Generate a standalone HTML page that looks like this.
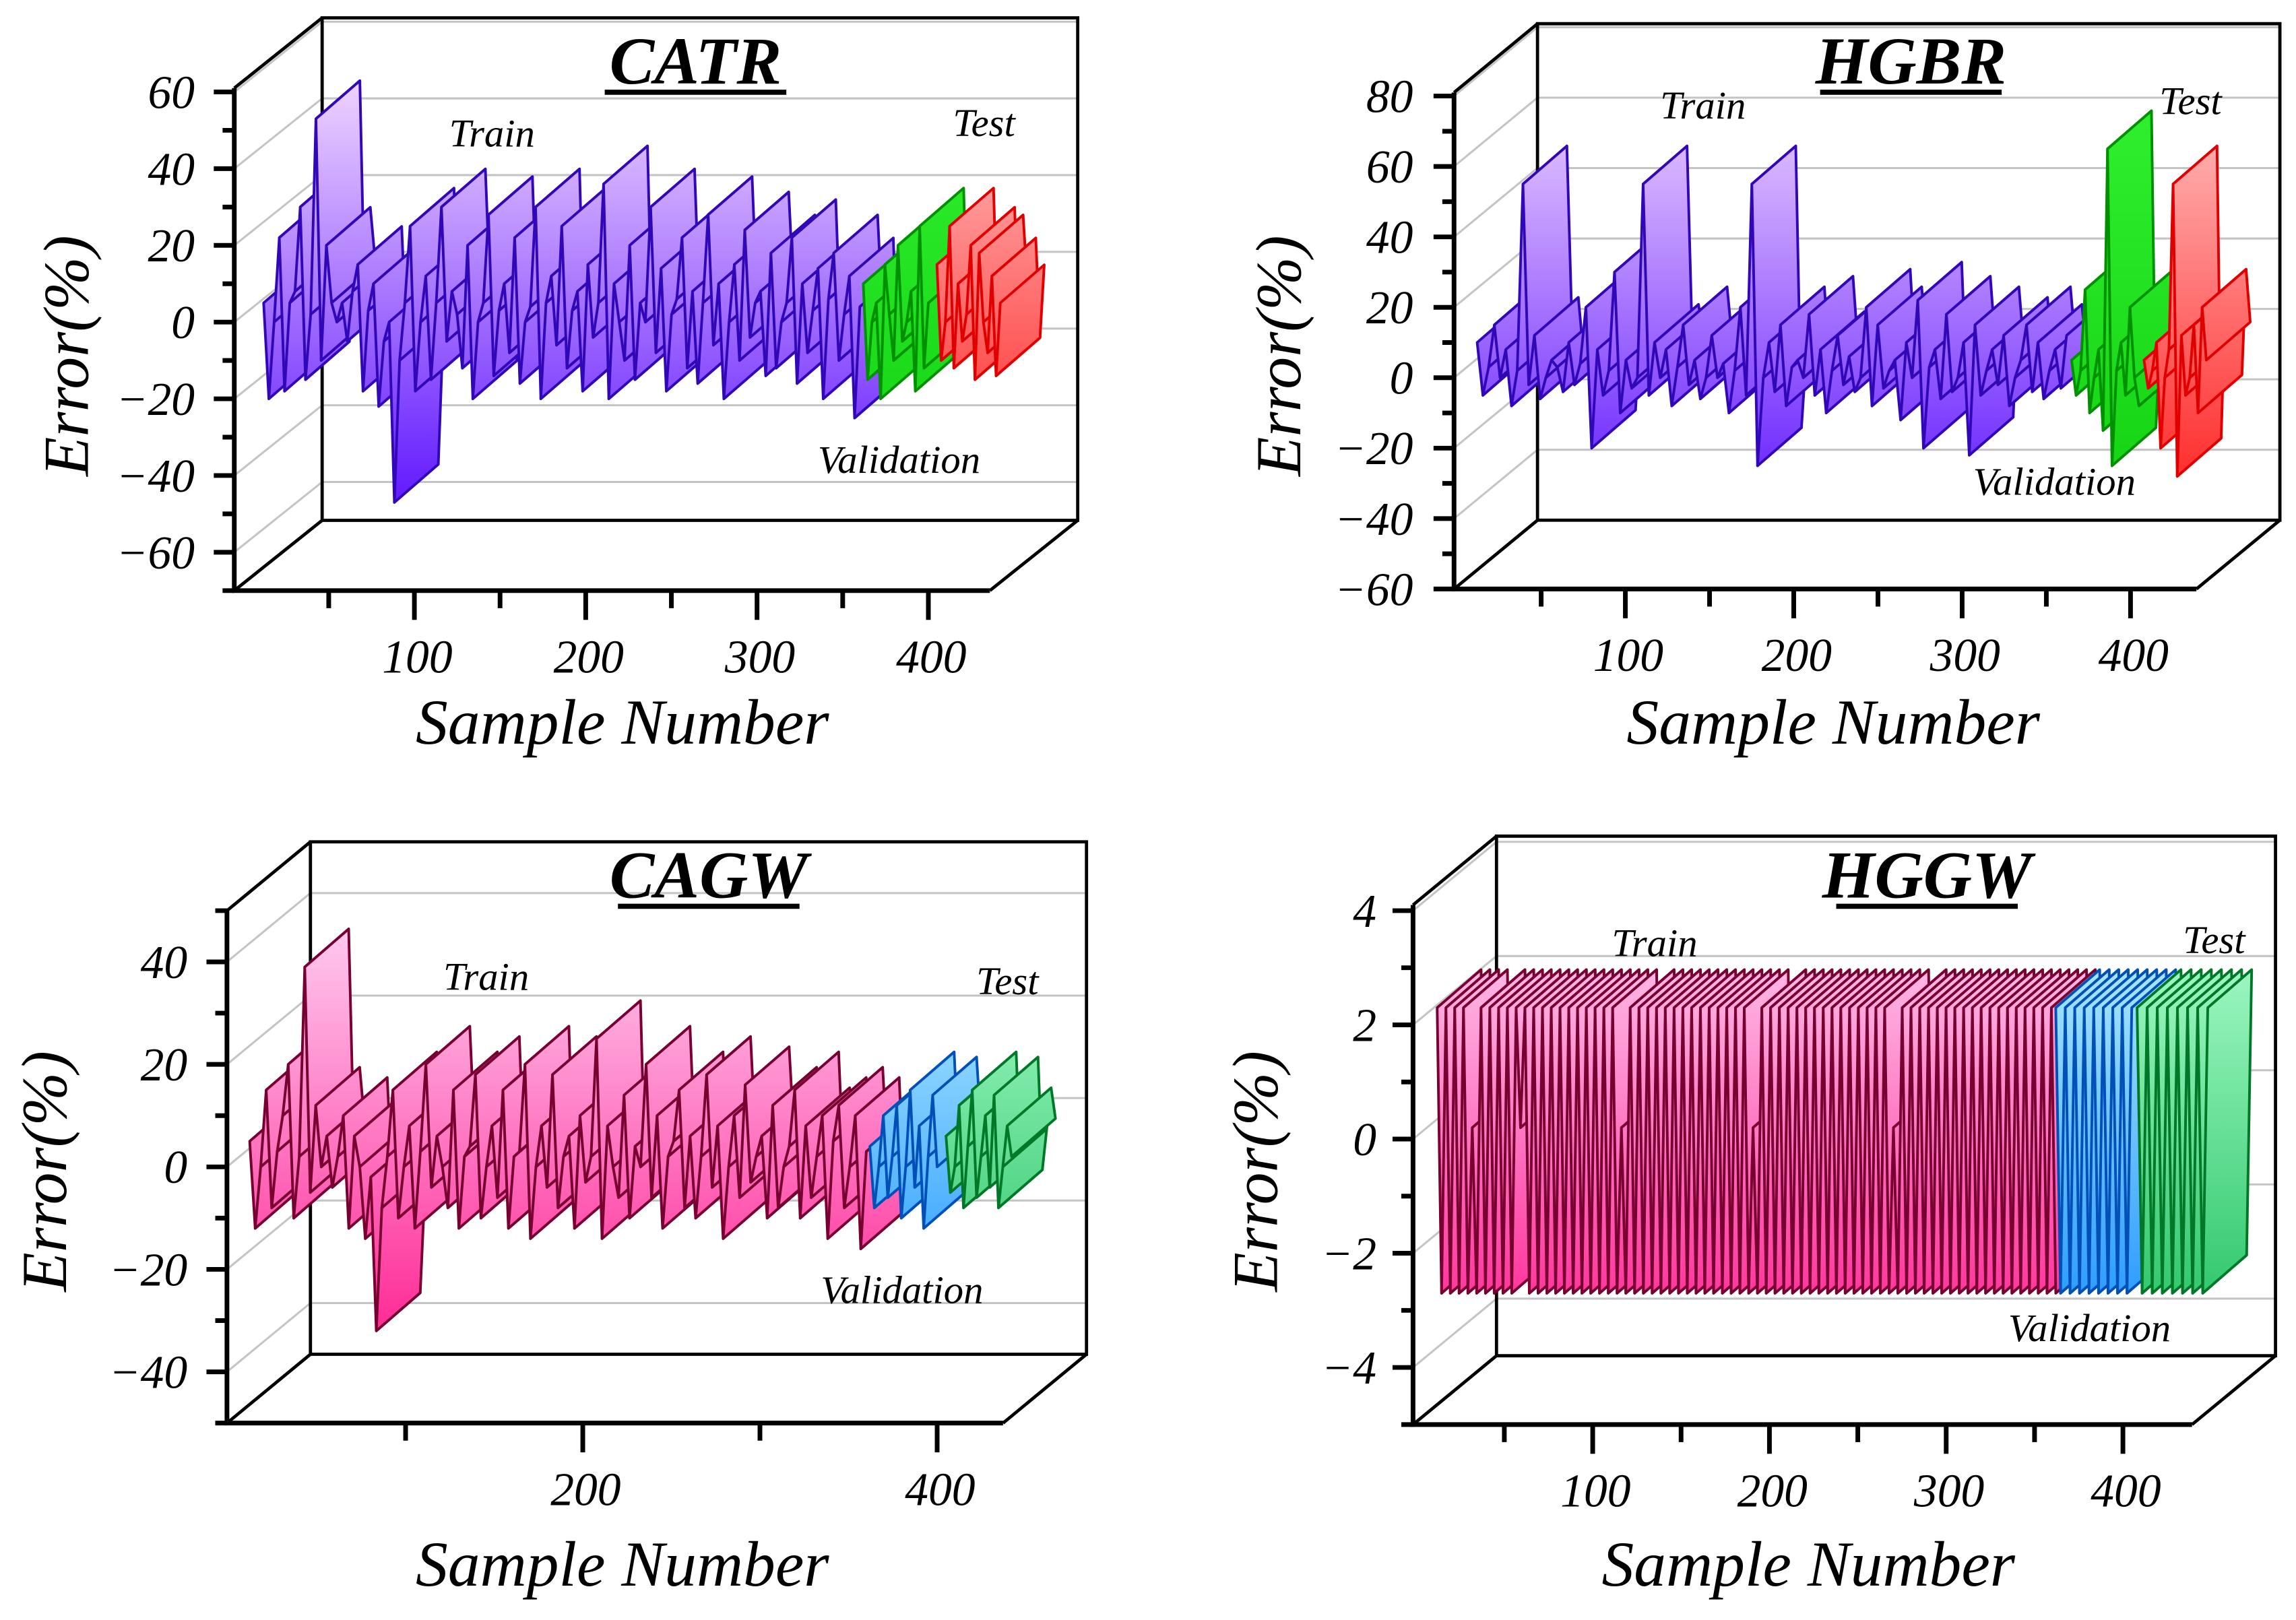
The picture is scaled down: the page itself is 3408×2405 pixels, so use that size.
<!DOCTYPE html>
<html><head><meta charset="utf-8"><style>
html,body{margin:0;padding:0;background:#fff;}
svg{display:block;}
text{font-family:"Liberation Serif","Times New Roman",serif;font-style:italic;}
</style></head><body>
<svg id="chart" xmlns="http://www.w3.org/2000/svg" width="3408" height="2405" viewBox="0 0 1568 1106.5" preserveAspectRatio="none">
<defs id="defs"></defs>
</svg>
<script>
// ---- data (error % per sample) ----
const catrTrainStart = 12, catrTrainEnd = 360;
const catrTrain = [5,-20,0,22,-18,5,8,30,-15,2,53,-10,20,5,0,5,-5,8,15,-18,3,10,-22,-5,0,-47,-10,5,25,-18,0,12,-15,5,30,-5,8,2,-12,20,-20,0,5,28,-14,3,10,-8,22,-16,0,4,30,-20,5,12,-6,25,-12,3,8,-18,15,-4,5,36,-20,10,0,-10,20,-15,5,0,30,-8,14,-18,2,6,22,-12,8,-16,5,28,-6,10,-20,0,15,-10,24,-4,5,8,-14,18,-12,0,5,22,-16,10,-8,3,14,-20,6,18,-10,2,12,-25,4];
const catrValStart = 362, catrValEnd = 400;
const catrVal = [10,-15,0,5,-20,15,2,-10,20,-5,0,8,-18,25,-12,5];
const catrTestStart = 405, catrTestEnd = 442;
const catrTest = [15,-10,0,25,-12,10,-5,2,20,-15,18,0,-8,12,-14,5];

const hgbrTrainStart = 12, hgbrTrainEnd = 362;
const hgbrTrain = [10,-5,3,15,0,8,-8,2,55,-2,12,-6,0,5,3,-4,10,-2,4,20,-20,8,-5,2,30,-10,5,-3,0,55,-5,10,0,8,-8,3,15,-2,5,-6,0,12,0,4,-10,2,20,-5,55,-25,0,10,-4,15,-8,3,5,0,18,-5,8,-10,2,12,-2,6,-4,0,20,-8,15,-3,2,5,-12,10,0,22,-20,3,8,-6,18,-4,0,10,-22,15,-5,2,8,-2,12,-8,0,5,15,-4,10,-6,2,8,-3,12];
const hgbrValStart = 365, hgbrValEnd = 405;
const hgbrVal = [5,-5,2,25,-10,0,8,-15,65,-25,2,10,-5,20,0,-8];
const hgbrTestStart = 408, hgbrTestEnd = 445;
const hgbrTest = [5,-3,2,10,-20,0,8,55,-28,12,-5,0,15,-10,20,5];

const cagwTrainStart = 12, cagwTrainEnd = 360;
const cagwTrain = [5,-12,0,15,-8,3,10,20,-10,2,39,-5,12,0,6,-4,2,10,-12,6,0,-14,-2,-32,-8,2,15,-10,0,8,-12,3,20,-4,6,0,-8,15,-12,2,4,18,-10,0,8,-6,15,-12,2,3,20,-14,0,8,-4,18,-8,2,6,-12,10,-3,2,25,-14,8,0,-6,14,-10,4,0,20,-6,10,-12,2,5,15,-8,6,-10,2,18,-4,8,-14,0,10,-6,16,-3,2,6,-10,12,-8,0,4,15,-10,8,-6,2,10,-14,5,12,-8,0,10,-16,3];
const cagwValStart = 362, cagwValEnd = 400;
const cagwVal = [4,-8,0,10,-6,2,12,-10,0,15,-4,8,-12,2,14,0];
const cagwTestStart = 405, cagwTestEnd = 442;
const cagwTest = [6,-5,0,12,-8,4,15,-6,2,10,-4,14,-8,0,8,2];

const hggwTrainStart = 12, hggwTrainEnd = 362;
const hggwTrain = [2.3,-2.7,2.3,-2.7,2.3,-2.7,2.3,-2.7,0.2,-2.7,2.3,-2.7,2.3,-2.7,2.3,-2.7,2.3,-2.7,2.3,0.2,2.3,-2.7,2.3,-2.7,2.3,-2.7,2.3,-2.7,2.3,-2.7,2.3,-2.7,2.3,-2.7,2.3,-2.7,2.3,-2.7,2.3,-2.7,2.3,-2.7,0.2,-2.7,2.3,-2.7,2.3,-2.7,2.3,-2.7,2.3,-2.7,2.3,-2.7,2.3,-2.7,2.3,-2.7,2.3,-2.7,2.3,-2.7,2.3,-2.7,2.3,-2.7,2.3,-2.7,2.3,-2.7,2.3,-2.7,0.2,-2.7,2.3,-2.7,2.3,-2.7,2.3,-2.7,2.3,-2.7,2.3,-2.7,2.3,-2.7,2.3,-2.7,2.3,-2.7,2.3,-2.7,2.3,-2.7,2.3,-2.7,2.3,-2.7,2.3,-2.7,2.3,-2.7,2.3,-2.7,0.2,-2.7,2.3,-2.7,2.3,-2.7,2.3,-2.7,2.3,-2.7,2.3,-2.7,2.3,-2.7,2.3,-2.7,2.3,-2.7,2.3,-2.7,2.3,-2.7,2.3,-2.7,2.3,-2.7,2.3,-2.7,2.3,-2.7,2.3,-2.7,2.3,-2.7,2.3,-2.7,2.3,-2.7];
const hggwValStart = 362, hggwValEnd = 405;
const hggwVal = [2.3,-2.7,2.3,-2.7,2.3,-2.7,2.3,-2.7,2.3,-2.7,2.3,-2.7,2.3,-2.7,2.3,-2.7,2.3];
const hggwTestStart = 408, hggwTestEnd = 448;
const hggwTest = [2.3,-2.7,2.3,-2.7,2.3,-2.7,2.3,-2.7,2.3,-2.7,2.3,-2.7,2.3,-2.7,2.3];

const catrYTicks = [-60,-40,-20,0,20,40,60];
const hgbrYTicks = [-60,-40,-20,0,20,40,60,80];
const cagwYTicks = [-40,-20,0,20,40];
const hggwYTicks = [-4,-2,0,2,4];
const xTicksAll = [100,200,300,400];
const xTicksCagw = [200,400];

const svg = document.getElementById('chart');
const defs = document.getElementById('defs');
const NS = 'http://www.w3.org/2000/svg';
function mk(tag, attrs, parent){
  const e = document.createElementNS(NS, tag);
  for (const k in attrs) e.setAttribute(k, attrs[k]);
  (parent||svg).appendChild(e);
  return e;
}
function fmt(v){ return v<0 ? '\u2212'+Math.abs(v) : String(v); }

const panels = [
 {id:'catr', title:'CATR', ax:160, zeroY:220, k:2.62, vTop:61, vBot:-70, minorStep:10, yTicks:catrYTicks,
  ox:60, oy:-48, frontRight:676, sx0:166, sk:1.17, xTicks:xTicksAll, xMinor:[50,150,250,350],
  tickLblX:133, titleX:475, titleY:57, trainL:[336,100], testL:[672,93], valL:[614,323], errX:60, errY:243, snX:425, snY:508,
  series:[
   {name:'train', vals:catrTrain, s:catrTrainStart, e:catrTrainEnd, stroke:'#3008b8', top:'#ecd0ff', bot:'#5a10ff'},
   {name:'validation', vals:catrVal, s:catrValStart, e:catrValEnd, stroke:'#009000', top:'#30f030', bot:'#10d010'},
   {name:'test', vals:catrTest, s:catrTestStart, e:catrTestEnd, stroke:'#e00000', top:'#ffc0c0', bot:'#ff1818'}]},
 {id:'hgbr', title:'HGBR', ax:993, zeroY:258, k:2.405, vTop:81, vBot:-60, minorStep:10, yTicks:hgbrYTicks,
  ox:57, oy:-47, frontRight:1500, sx0:995, sk:1.15, xTicks:xTicksAll, xMinor:[50,150,250,350],
  tickLblX:965, titleX:1305, titleY:57, trainL:[1163,81], testL:[1496,78], valL:[1403,338], errX:888, errY:243, snX:1252, snY:508,
  series:[
   {name:'train', vals:hgbrTrain, s:hgbrTrainStart, e:hgbrTrainEnd, stroke:'#3008b8', top:'#ecd0ff', bot:'#5a10ff'},
   {name:'validation', vals:hgbrVal, s:hgbrValStart, e:hgbrValEnd, stroke:'#009000', top:'#30f030', bot:'#10d010'},
   {name:'test', vals:hgbrTest, s:hgbrTestStart, e:hgbrTestEnd, stroke:'#e00000', top:'#ffc0c0', bot:'#ff1818'}]},
 {id:'cagw', title:'CAGW', ax:155, zeroY:797, k:3.5, vTop:50, vBot:-50, minorStep:10, yTicks:cagwYTicks,
  ox:57, oy:-47, frontRight:685, sx0:156, sk:1.21, xTicks:xTicksCagw, xMinor:[100,300],
  tickLblX:128, titleX:484, titleY:613, trainL:[332,676], testL:[688,679], valL:[616,890], errX:45, errY:800, snX:425, snY:1083,
  series:[
   {name:'train', vals:cagwTrain, s:cagwTrainStart, e:cagwTrainEnd, stroke:'#780030', top:'#ffd0f4', bot:'#ff2090'},
   {name:'validation', vals:cagwVal, s:cagwValStart, e:cagwValEnd, stroke:'#0050b8', top:'#c0f4ff', bot:'#1890ff'},
   {name:'test', vals:cagwTest, s:cagwTestStart, e:cagwTestEnd, stroke:'#007828', top:'#b0ffd0', bot:'#20c060'}]},
 {id:'hggw', title:'HGGW', ax:965, zeroY:778, k:39, vTop:4.1, vBot:-5, minorStep:1, yTicks:hggwYTicks,
  ox:57, oy:-47, frontRight:1497, sx0:967, sk:1.207, xTicks:xTicksAll, xMinor:[50,150,250,350],
  tickLblX:940, titleX:1316, titleY:613, trainL:[1130,653], testL:[1512,651], valL:[1427,916], errX:872, errY:800, snX:1235, snY:1083,
  series:[
   {name:'train', vals:hggwTrain, s:hggwTrainStart, e:hggwTrainEnd, stroke:'#780030', top:'#ffd0f4', bot:'#ff2090'},
   {name:'validation', vals:hggwVal, s:hggwValStart, e:hggwValEnd, stroke:'#0050b8', top:'#c0f4ff', bot:'#1890ff'},
   {name:'test', vals:hggwTest, s:hggwTestStart, e:hggwTestEnd, stroke:'#007828', top:'#b0ffd0', bot:'#20c060'}]}
];

const DX = 30, DY = -26;

panels.forEach(p => {
  const g = mk('g', {});
  
  
  const Y = v => p.zeroY - v * p.k;
  const X = s => p.sx0 + s * p.sk;
  const yT = Y(p.vTop), yB = Y(p.vBot);
  const wallL = p.ax + p.ox, wallR = p.frontRight + p.ox, wallT = yT + p.oy, wallB = yB + p.oy;

  p.yTicks.forEach(t => {
    const y = Y(t);
    const gl = mk('line', {x1:wallL, y1:y+p.oy, x2:wallR, y2:y+p.oy, stroke:'#c4c4c4', 'stroke-width':1.4}, g);
    
    
    const gd = mk('line', {x1:p.ax, y1:y, x2:wallL, y2:y+p.oy, stroke:'#c4c4c4', 'stroke-width':1.4}, g);
    
    
  });

  const frame = mk('path', {d:`M${wallL},${wallB}V${wallT}H${wallR}V${wallB}H${wallL}L${p.ax},${yB}M${wallR},${wallB}L${p.frontRight},${yB}M${p.ax},${yT}L${wallL},${wallT}`,
    fill:'none', stroke:'#000', 'stroke-width':2.2}, g);
  
  

  p.series.forEach(se => {
    const gid = 'grad-' + p.id + '-' + se.name;
    const lg = mk('linearGradient', {id:gid, gradientUnits:'userSpaceOnUse', x1:0, x2:0, y1:yT, y2:Y(p.vBot*0.75)}, defs);
    mk('stop', {offset:0, 'stop-color':se.top}, lg);
    mk('stop', {offset:1, 'stop-color':se.bot}, lg);
    const sg = mk('g', {}, g);
    
    
    const n = se.vals.length;
    const step = (se.e - se.s) / (n - 1);
    for (let i = 0; i < n - 1; i++) {
      const x1 = X(se.s + i*step), y1 = Y(se.vals[i]);
      const x2 = X(se.s + (i+1)*step), y2 = Y(se.vals[i+1]);
      const q = mk('polygon', {points:`${x1},${y1} ${x2},${y2} ${x2+DX},${y2+DY} ${x1+DX},${y1+DY}`,
        fill:`url(#${gid})`, stroke:se.stroke, 'stroke-width':1.8, 'stroke-linejoin':'round'}, sg);
      
      
    }
  });

  const ya = mk('line', {x1:p.ax, y1:yT, x2:p.ax, y2:yB+1.5, stroke:'#000', 'stroke-width':3.2}, g);
  
  
  const xa = mk('line', {x1:p.ax-1.5, y1:yB, x2:p.frontRight, y2:yB, stroke:'#000', 'stroke-width':3.2}, g);
  
  

  for (let v = Math.ceil(p.vBot/p.minorStep)*p.minorStep; v <= p.vTop + 1e-9; v += p.minorStep) {
    const major = p.yTicks.some(t => Math.abs(t - v) < 1e-9);
    const tk = mk('line', {x1:p.ax - (major?14:8), y1:Y(v), x2:p.ax, y2:Y(v), stroke:'#000', 'stroke-width':3.2}, g);
    
    
  }
  p.yTicks.forEach(t => {
    const tl = mk('text', {x:p.tickLblX, y:Y(t)+11, 'text-anchor':'end', 'font-size':32}, g);
    tl.textContent = fmt(t);
    
    
  });
  p.xTicks.forEach(t => {
    const tk = mk('line', {x1:X(t), y1:yB, x2:X(t), y2:yB+20, stroke:'#000', 'stroke-width':3.2}, g);
    
    
    const tl = mk('text', {x:X(t)+2, y:yB+56, 'text-anchor':'middle', 'font-size':32}, g);
    tl.textContent = String(t);
    
    
  });
  p.xMinor.forEach(t => {
    const tk = mk('line', {x1:X(t), y1:yB, x2:X(t), y2:yB+12, stroke:'#000', 'stroke-width':3.2}, g);
    
    
  });

  const ti = mk('text', {x:p.titleX, y:p.titleY, 'text-anchor':'middle', 'font-size':46, 'font-weight':'bold'}, g);
  ti.textContent = p.title;
  
  
  const ul = mk('line', {x1:p.titleX-62, y1:p.titleY+6, x2:p.titleX+62, y2:p.titleY+6, stroke:'#000', 'stroke-width':3.5}, g);
  
  
  [['Train',p.trainL,'train-label'],['Test',p.testL,'test-label'],['Validation',p.valL,'validation-label']].forEach(a => {
    const t = mk('text', {x:a[1][0], y:a[1][1], 'text-anchor':'middle', 'font-size':27}, g);
    t.textContent = a[0];
    
    
  });
  const et = mk('text', {x:p.errX, y:p.errY, 'text-anchor':'middle', 'font-size':44, transform:`rotate(-90 ${p.errX} ${p.errY})`}, g);
  et.textContent = 'Error(%)';
  
  
  const st = mk('text', {x:p.snX, y:p.snY, 'text-anchor':'middle', 'font-size':44}, g);
  st.textContent = 'Sample Number';
  
  
});
</script>
</body></html>
